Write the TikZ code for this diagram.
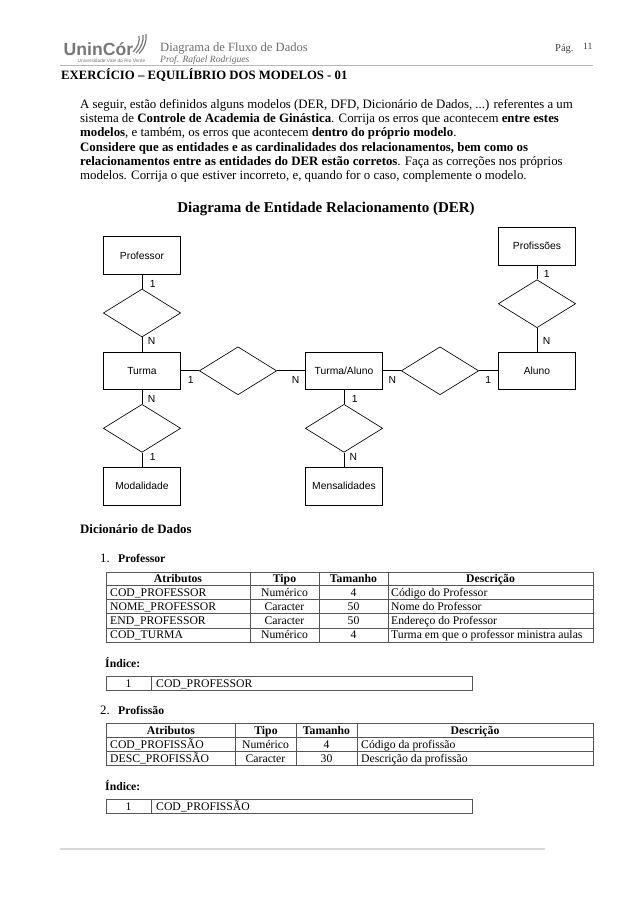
\documentclass[tikz,border=0pt]{standalone}
\usepackage{fontspec}
\setmainfont{Liberation Serif}
\newfontfamily\arialf{Liberation Sans}
\usetikzlibrary{shapes.geometric}
\definecolor{rule}{HTML}{555555}
\definecolor{hdr}{HTML}{6E6E6E}
\definecolor{logog}{HTML}{777777}
\newcommand{\fs}[1]{\fontsize{#1}{#1}\selectfont}
\tikzset{
  ent/.style={draw=black,line width=0.65pt,minimum width=77.4pt,minimum height=37.5pt,inner sep=0pt,font=\arialf\fs{10.3}},
  rel/.style={draw=black,line width=0.65pt,shape=diamond,minimum width=77.4pt,minimum height=48pt,inner sep=0pt},
  link/.style={draw=black,line width=0.65pt},
  card/.style={inner sep=0pt,font=\arialf\fs{10.3}},
  para/.style={anchor=base west,inner sep=0pt,font=\fs{12.85}},
  cellL/.style={anchor=base west,inner sep=0pt,font=\fs{11.7}},
  cellC/.style={anchor=base,inner sep=0pt,font=\fs{11.7}},
  cellH/.style={anchor=base,inner sep=0pt,font=\fs{11.7}\bfseries},
  tab/.style={draw=rule,line width=0.7pt},
}
\begin{document}
\begin{tikzpicture}[x=1pt,y=-1pt]
\useasboundingbox (0,0) rectangle (638,903);
\fill[white] (0,0) rectangle (638,903);

% header
\node[anchor=base west,inner sep=0pt,text=logog,font=\arialf\bfseries\fs{17.6}] (logo) at (63.5,55.3) {UninCór};
\node[anchor=base,inner sep=0pt,text=logog,font=\arialf\fs{4.8}] (logosub) at (111.5,62) {Universidade Vale do Rio Verde};
\draw[logog,line width=1.2pt] (133,52) .. controls (138,47) and (140,41) .. (139,36);
\draw[logog,line width=1.2pt] (136,53) .. controls (141,48) and (144,41) .. (143,35);
\draw[logog,line width=1.2pt] (139,53.5) .. controls (144,49) and (147,41) .. (146,34);
\node[anchor=base west,inner sep=0pt,text=hdr,font=\fs{12.6}] (htitle) at (160,51.5) {Diagrama de Fluxo de Dados};
\node[anchor=base west,inner sep=0pt,text=hdr,font=\fs{9.6}\itshape] (hprof) at (160,62) {Prof. Rafael Rodrigues};
\node[anchor=base west,inner sep=0pt,font=\fs{10.5},text=black!75] (hpag) at (555,51.5) {Pág.};
\node[anchor=base west,inner sep=0pt,font=\fs{9.7},text=black!75] (hnum) at (583,49) {11};
\draw[black!28,line width=0.9pt] (60,65.5) -- (593,65.5);
\node[anchor=base west,inner sep=0pt,font=\fs{12.75}\bfseries] (exerc) at (61,79) {EXERCÍCIO – EQUILÍBRIO DOS MODELOS - 01};

% paragraph
\node[para] (p1) at (80,108) {A seguir, estão definidos alguns modelos (DER, DFD, Dicionário de Dados, ...) referentes a um};
\node[para] (p2) at (80,122.3) {sistema de \textbf{Controle de Academia de Ginástica}. Corrija os erros que acontecem \textbf{entre estes}};
\node[para] (p3) at (80,136.6) {\textbf{modelos}, e também, os erros que acontecem \textbf{dentro do próprio modelo}.};
\node[para] (p4) at (80,151) {\textbf{Considere que as entidades e as cardinalidades dos relacionamentos, bem como os}};
\node[para] (p5) at (80,165.3) {\textbf{relacionamentos entre as entidades do DER estão corretos}. Faça as correções nos próprios};
\node[para] (p6) at (80,179.6) {modelos. Corrija o que estiver incorreto, e, quando for o caso, complemente o modelo.};
\node[anchor=base,inner sep=0pt,font=\fs{15}\bfseries] (dertitle) at (326,212) {Diagrama de Entidade Relacionamento (DER)};

% ER diagram
\node[ent] (prof) at (142,255.5) {Professor};
\node[rel] (r1) at (142,313) {};
\node[ent] (turma) at (142,370.8) {Turma};
\node[rel] (r2) at (142,428.3) {};
\node[ent] (modal) at (142,486.3) {Modalidade};
\node[rel] (r3) at (238,370.8) {};
\node[ent] (ta) at (344,370.8) {Turma/Aluno};
\node[rel] (r4) at (344,428.3) {};
\node[ent] (mens) at (344,486.3) {Mensalidades};
\node[rel] (r5) at (440,370.8) {};
\node[ent] (aluno) at (537,370.8) {Aluno};
\node[rel] (r6) at (537,303.7) {};
\node[ent] (profs) at (537,246.3) {Profissões};
\draw[link] (prof) -- (r1);
\draw[link] (r1) -- (turma);
\draw[link] (turma) -- (r2);
\draw[link] (r2) -- (modal);
\draw[link] (turma) -- (r3);
\draw[link] (r3) -- (ta);
\draw[link] (ta) -- (r4);
\draw[link] (r4) -- (mens);
\draw[link] (ta) -- (r5);
\draw[link] (r5) -- (aluno);
\draw[link] (aluno) -- (r6);
\draw[link] (r6) -- (profs);
\node[card] (c1) at (152.7,284) {1};
\node[card] (c2) at (151.7,341) {N};
\node[card] (c3) at (190.7,380) {1};
\node[card] (c4) at (295.7,380) {N};
\node[card] (c5) at (151.7,399) {N};
\node[card] (c6) at (152.7,457) {1};
\node[card] (c7) at (392.3,380) {N};
\node[card] (c8) at (488.3,380) {1};
\node[card] (c9) at (354.7,399) {1};
\node[card] (c10) at (353.3,457) {N};
\node[card] (c11) at (546.7,274) {1};
\node[card] (c12) at (546.7,341) {N};

% dictionary
\node[para,font=\fs{12.85}\bfseries] (dic) at (80,533) {Dicionário de Dados};
\node[para] (n1) at (100,562) {1.};
\node[para,font=\fs{11.7}\bfseries] (h1) at (118,562) {Professor};
\draw[tab] (106,572) rectangle (593,642);
\foreach \yy in {585.5,599.7,613.8,628} \draw[tab] (106,\yy) -- (593,\yy);
\foreach \xx in {250,319,388} \draw[tab] (\xx,572) -- (\xx,642);
\node[cellH] (t1ha) at (178,582.5) {Atributos};
\node[cellH] (t1hb) at (284.5,582.5) {Tipo};
\node[cellH] (t1hc) at (353.5,582.5) {Tamanho};
\node[cellH] (t1hd) at (490.5,582.5) {Descrição};
\node[cellL] (t1a1) at (110,596.5) {COD\_PROFESSOR};
\node[cellC] (t1b1) at (284.5,596.5) {Numérico};
\node[cellC] (t1c1) at (353.5,596.5) {4};
\node[cellL] (t1d1) at (391,596.5) {Código do Professor};
\node[cellL] (t1a2) at (110,610.5) {NOME\_PROFESSOR};
\node[cellC] (t1b2) at (284.5,610.5) {Caracter};
\node[cellC] (t1c2) at (353.5,610.5) {50};
\node[cellL] (t1d2) at (391,610.5) {Nome do Professor};
\node[cellL] (t1a3) at (110,624.5) {END\_PROFESSOR};
\node[cellC] (t1b3) at (284.5,624.5) {Caracter};
\node[cellC] (t1c3) at (353.5,624.5) {50};
\node[cellL] (t1d3) at (391,624.5) {Endereço do Professor};
\node[cellL] (t1a4) at (110,638.5) {COD\_TURMA};
\node[cellC] (t1b4) at (284.5,638.5) {Numérico};
\node[cellC] (t1c4) at (353.5,638.5) {4};
\node[cellL] (t1d4) at (391,638.5) {Turma em que o professor ministra aulas};

\node[para,font=\fs{11.7}\bfseries] (i1) at (105,667) {Índice:};
\draw[tab] (106,676) rectangle (472,690.5);
\draw[tab] (151,676) -- (151,690.5);
\node[cellC] (i1a) at (128.5,687) {1};
\node[cellL] (i1b) at (156,687) {COD\_PROFESSOR};

\node[para] (n2) at (100,714) {2.};
\node[para,font=\fs{11.7}\bfseries] (h2) at (118,714) {Profissão};
\draw[tab] (106,723) rectangle (593,765.5);
\foreach \yy in {737.3,751.5} \draw[tab] (106,\yy) -- (593,\yy);
\foreach \xx in {235,296,357} \draw[tab] (\xx,723) -- (\xx,765.5);
\node[cellH] (t2ha) at (171,734) {Atributos};
\node[cellH] (t2hb) at (266,734) {Tipo};
\node[cellH] (t2hc) at (326.5,734) {Tamanho};
\node[cellH] (t2hd) at (475,734) {Descrição};
\node[cellL] (t2a1) at (110,748) {COD\_PROFISSÃO};
\node[cellC] (t2b1) at (265.5,748) {Numérico};
\node[cellC] (t2c1) at (326.5,748) {4};
\node[cellL] (t2d1) at (361,748) {Código da profissão};
\node[cellL] (t2a2) at (110,762) {DESC\_PROFISSÃO};
\node[cellC] (t2b2) at (265.5,762) {Caracter};
\node[cellC] (t2c2) at (326.5,762) {30};
\node[cellL] (t2d2) at (361,762) {Descrição da profissão};

\node[para,font=\fs{11.7}\bfseries] (i2) at (105,790.5) {Índice:};
\draw[tab] (106,799.5) rectangle (472,813.5);
\draw[tab] (151,799.5) -- (151,813.5);
\node[cellC] (i2a) at (128.5,810.5) {1};
\node[cellL] (i2b) at (156,810.5) {COD\_PROFISSÃO};

\draw[black!15,line width=1.3pt] (60,849) -- (545,849);
\end{tikzpicture}
\end{document}
